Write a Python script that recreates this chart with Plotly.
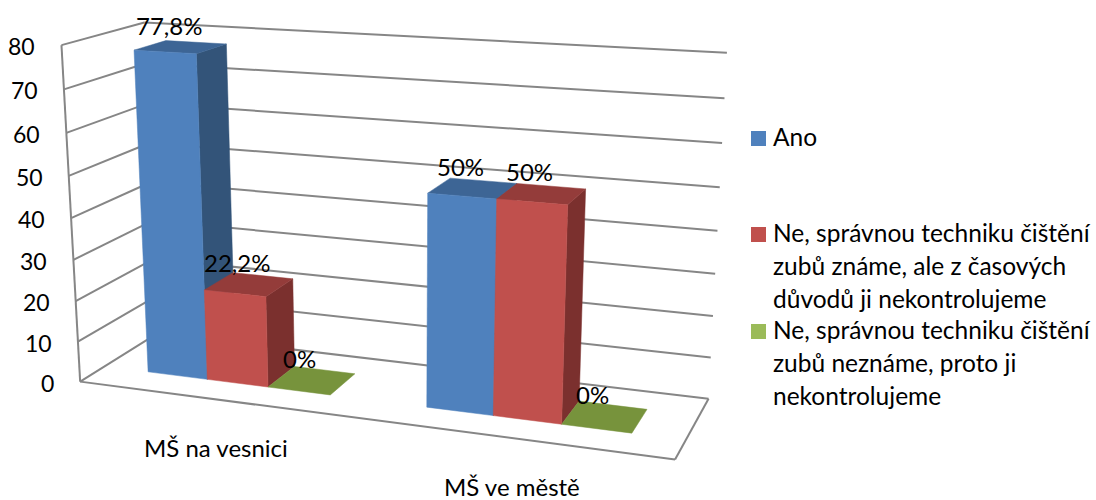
import numpy as np
import plotly.graph_objects as go

categories = ["MŠ na vesnici", "MŠ ve městě"]
ano = [77.8, 50]
ne_znaji = [22.2, 50]
ne_neznaji = [0, 0]
ticks = [0, 10, 20, 30, 40, 50, 60, 70, 80]
legend_ano = ["Ano"]
legend_ne_znaji = ["Ne, správnou techniku čištění", "zubů známe, ale z časových", "důvodů ji nekontrolujeme"]
legend_ne_neznaji = ["Ne, správnou techniku čištění", "zubů neznáme, proto ji", "nekontrolujeme"]

# Perspective camera: floor position u (categories), v (depth) and value z to page pixels
CAMERA = np.array([
    [517.583163, 90.8215727, -0.275647382, 80.163273],
    [25.1648177, -19.3923504, -4.23695083, 381.630062],
    [-0.11453462, 0.0863304419, -0.000685365355, 1.0],
])

FRONT, BACK = 0.3, 0.7   # bar depth inside the floor
BAR = 1 / 9              # bar width along the category direction
GRID = "#868686"
# front, side and top shading of each series
FACES = [("#4f81bd", "#335479", "#3d6595"),
         ("#c0504d", "#7b302e", "#943c3a"),
         ("#9bbb59", "#637a38", "#77933c")]
FONT = "Lato"


def project(u, v, z):
    p = CAMERA @ np.array([u, v, z, 1.0])
    return p[0] / p[2], p[1] / p[2]


fig = go.Figure()


def face(corners, color):
    xs, ys = zip(*[project(*c) for c in corners])
    fig.add_trace(go.Scatter(x=list(xs) + [xs[0]], y=list(ys) + [ys[0]], mode="lines", fill="toself",
                             fillcolor=color, line=dict(color=color, width=0.5),
                             hoverinfo="skip", showlegend=False))


def rule(a, b):
    xs, ys = zip(project(*a), project(*b))
    fig.add_trace(go.Scatter(x=xs, y=ys, mode="lines", line=dict(color=GRID, width=2),
                             hoverinfo="skip", showlegend=False))


annotations = []


def label(x, y, s, anchor="center", dx=0, dy=0, size=24):
    annotations.append(dict(x=x, y=y, text=s, showarrow=False, xanchor=anchor, yanchor="middle",
                            xshift=dx, yshift=dy, xref="x", yref="y",
                            font=dict(family=FONT, size=size, color="black")))


# Walls and floor
for t in ticks:
    rule((0, 1, t), (1, 1, t))
    rule((0, 0, t), (0, 1, t))
rule((0, 0, 0), (0, 0, ticks[-1]))
rule((0, 0, 0), (1, 0, 0))
rule((1, 0, 0), (1, 1, 0))

# Value axis labels along the front edge of the left wall
for t in ticks:
    px, py = project(0, 0, t)
    label(px, py, str(t), "right", -24, -1, size=23)

# Columns, painted left to right so nearer faces cover the ones behind
for g, cat in enumerate(categories):
    center = 0.25 + 0.5 * g
    start = center - 1.5 * BAR
    for s, values in enumerate([ano, ne_znaji, ne_neznaji]):
        val = values[g]
        a, c = start + s * BAR, start + (s + 1) * BAR
        front, side, top = FACES[s]
        if val > 0:
            face([(c, FRONT, 0), (c, BACK, 0), (c, BACK, val), (c, FRONT, val)], side)
        face([(a, FRONT, val), (c, FRONT, val), (c, BACK, val), (a, BACK, val)], top)
        if val > 0:
            face([(a, FRONT, 0), (c, FRONT, 0), (c, FRONT, val), (a, FRONT, val)], front)
        px, py = project((a + c) / 2, 0.5, val)
        label(px, py, f"{val:g}".replace(".", ",") + "%", dx=-12, dy=22)
    px, py = project(center, 0, 0)
    label(px, py, cat, dx=0, dy=-48)

# Legend: swatch plus wrapped text rows
LINE = 33
for y0, rows, idx in [(138, legend_ano, 0), (234, legend_ne_znaji, 1), (331, legend_ne_neznaji, 2)]:
    fig.add_trace(go.Scatter(x=[758.5], y=[y0 + 0.5], mode="markers",
                             marker=dict(symbol="square", size=15, color=FACES[idx][0], line=dict(width=0)),
                             hoverinfo="skip", showlegend=False))
    for i, row in enumerate(rows):
        label(771, y0 + i * LINE, row, "left", dy=1.5, size=24.5)

fig.update_layout(width=1096, height=500, margin=dict(l=0, r=0, t=0, b=0),
                  paper_bgcolor="white", plot_bgcolor="white",
                  xaxis=dict(range=[0, 1096], visible=False),
                  yaxis=dict(range=[500, 0], visible=False),
                  annotations=annotations, showlegend=False)
fig.write_html("out.html")
